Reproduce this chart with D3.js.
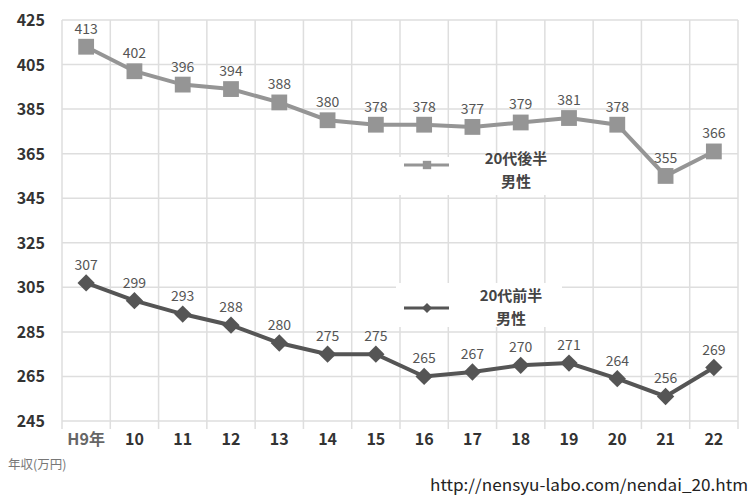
<!DOCTYPE html>
<html>
<head>
<meta charset="utf-8">
<script src="https://d3js.org/d3.v7.min.js"></script>
<style>
    body { margin: 0; background: #fff; }
    text { font-family: "Noto Sans CJK JP", "Noto Sans", sans-serif; }
    .grid line { stroke: #dedede; stroke-width: 1.5px; }
</style>
</head>
<body>
<div id="chart"></div>
<script>
    const width = 751;
    const height = 495;

    // data
    const years = ["H9年", "10", "11", "12", "13", "14", "15", "16", "17", "18", "19", "20", "21", "22"];
    const late20s = [413, 402, 396, 394, 388, 380, 378, 378, 377, 379, 381, 378, 355, 366];
    const early20s = [307, 299, 293, 288, 280, 275, 275, 265, 267, 270, 271, 264, 256, 269];
    const yTicks = [245, 265, 285, 305, 325, 345, 365, 385, 405, 425];

    const plotLeft = 62, plotRight = 738, plotTop = 20, plotBottom = 421;

    const svg = d3.select("#chart").append("svg")
        .attr("width", width)
        .attr("height", height);

    svg.append("rect").attr("width", width).attr("height", height).attr("fill", "#fff");

    const x = d3.scaleBand().domain(years).range([plotLeft, plotRight]);
    const y = d3.scaleLinear().domain([245, 425]).range([plotBottom, plotTop]);

    // grid
    const grid = svg.append("g").attr("class", "grid");
    grid.selectAll(null).data(yTicks).enter().append("line")
        .attr("x1", plotLeft).attr("x2", plotRight)
        .attr("y1", d => y(d)).attr("y2", d => y(d));
    const edges = years.map(d => x(d)).concat([plotRight]);
    grid.selectAll(null).data(edges).enter().append("line")
        .attr("x1", d => d).attr("x2", d => d)
        .attr("y1", plotTop).attr("y2", plotBottom + 8);

    // y labels
    svg.selectAll(null).data(yTicks).enter().append("text")
        .attr("x", 45).attr("y", d => y(d) + 6)
        .attr("text-anchor", "end")
        .attr("font-size", 16).attr("font-weight", "bold")
        .attr("fill", "#333")
        .text(d => d);

    // x labels
    svg.selectAll(null).data(years).enter().append("text")
        .attr("x", d => x(d) + x.bandwidth() / 2).attr("y", 445)
        .attr("text-anchor", "middle")
        .attr("font-size", 16).attr("font-weight", "bold")
        .attr("fill", d => d === "H9年" ? "#666" : "#333")
        .text(d => d);

    svg.append("text").attr("x", 8).attr("y", 469)
        .attr("font-size", 12.5).attr("fill", "#777")
        .text("年収(万円)");

    svg.append("text").attr("x", 430).attr("y", 491)
        .attr("font-size", 16).attr("fill", "#222")
        .attr("font-family", "'DejaVu Sans Condensed', sans-serif")
        .attr("textLength", 318).attr("lengthAdjust", "spacingAndGlyphs")
        .text("http://nensyu-labo.com/nendai_20.htm");

    const cx = (d, i) => x(years[i]) + x.bandwidth() / 2;
    const line = d3.line().x(cx).y(d => y(d));

    // legend boxes (white, covering grid)
    svg.append("rect").attr("x", 396).attr("y", 157).attr("width", 166).attr("height", 38).attr("fill", "#fff");
    svg.append("rect").attr("x", 396).attr("y", 283).attr("width", 166).attr("height", 44).attr("fill", "#fff");

    function drawSeries(vals, color, diamond) {
        svg.append("path").datum(vals)
            .attr("d", line)
            .attr("fill", "none")
            .attr("stroke", color)
            .attr("stroke-width", 4);
        const sym = d3.symbol().type(d3.symbolSquare).size(diamond ? 150 : 250);
        svg.selectAll(null).data(vals).enter().append("path")
            .attr("d", sym)
            .attr("transform", (d, i) => `translate(${cx(d, i)},${y(d)})` + (diamond ? " rotate(45)" : ""))
            .attr("fill", color);
        svg.selectAll(null).data(vals).enter().append("text")
            .attr("x", (d, i) => cx(d, i))
            .attr("y", d => y(d) - 13)
            .attr("text-anchor", "middle")
            .attr("font-size", 14)
            .attr("fill", "#555")
            .text(d => d);
    }

    drawSeries(late20s, "#959595", false);
    drawSeries(early20s, "#555555", true);

    // legends
    function legend(yPos, color, diamond, label1, tx, ty) {
        svg.append("line").attr("x1", 404).attr("x2", 449)
            .attr("y1", yPos).attr("y2", yPos)
            .attr("stroke", color).attr("stroke-width", 3);
        svg.append("path")
            .attr("d", d3.symbol().type(d3.symbolSquare).size(diamond ? 50 : 70))
            .attr("transform", `translate(427,${yPos})` + (diamond ? " rotate(45)" : ""))
            .attr("fill", color);
        svg.append("text").attr("x", tx).attr("y", ty)
            .attr("text-anchor", "middle").attr("font-size", 15).attr("font-weight", "bold")
            .attr("fill", "#444").text(label1);
        svg.append("text").attr("x", tx).attr("y", ty + 23)
            .attr("text-anchor", "middle").attr("font-size", 15).attr("font-weight", "bold")
            .attr("fill", "#444").text("男性");
    }
    legend(165, "#959595", false, "20代後半", 516, 164);
    legend(308, "#555555", true, "20代前半", 511, 301);
</script>
</body>
</html>
